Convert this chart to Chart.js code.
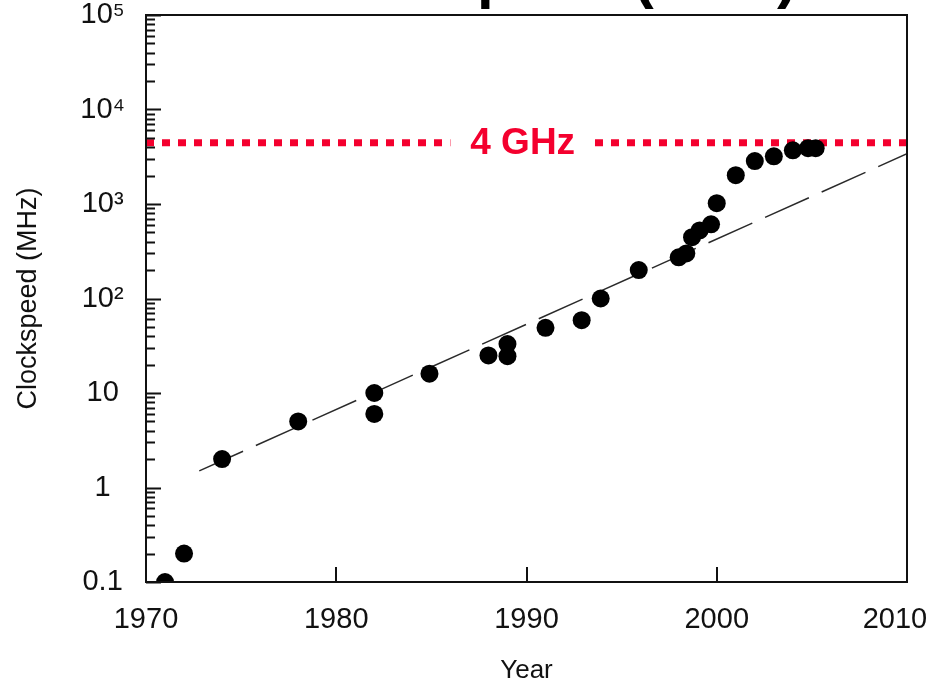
<!DOCTYPE html>
<html>
<head>
<meta charset="utf-8">
<script src="https://cdn.jsdelivr.net/npm/chart.js@4.4.1/dist/chart.umd.min.js"></script>
<style>
  html, body { margin: 0; padding: 0; background: #fff; }
  #wrap { width: 930px; height: 686px; }
</style>
</head>
<body>
<div id="wrap"><canvas id="myChart"></canvas></div>
<script>
// processor clock speeds
const years = [1971, 1972, 1974, 1978, 1982, 1982, 1984.9, 1988, 1989, 1989, 1991, 1992.9, 1993.9, 1995.9,
  1998, 1998.4, 1998.7, 1999.1, 1999.7, 2000, 2001, 2002, 2003, 2004, 2004.8, 2005.2];
const clockMHz = [0.1, 0.2, 2, 5, 10, 6, 16, 25, 33, 24.5, 49, 59, 100, 200,
  273, 300, 445, 525, 610, 1020, 2020, 2850, 3200, 3700, 3900, 3900];

// dashed trend line (doubling every ~3.4 years)
const trendYears = [1972.8, 2010];
const trendMHz = [1.5, 3400];

// red "4 GHz" wall, with a gap for the label
const wallYears = [1970, 1986, 1989.8, 1993.6, 2010];
const wallMHz = [4450, 4450, null, 4450, 4450];
const wallLabel = '4 GHz';

const yTicks = [0.1, 1, 10, 100, 1000, 10000, 100000];
const yTickLabels = ['0.1', '1', '10', '10²', '10³', '10⁴', '10⁵'];
const xTicks = [1970, 1980, 1990, 2000, 2010];
const xTickLabels = ['1970', '1980', '1990', '2000', '2010   '];

const FONT = "'Liberation Sans', Arial, Helvetica, sans-serif";
const RED = '#f4002e';

const toPoints = (xs, ys) => xs.map((x, i) => ({x: x, y: ys[i]}));

// frame, inner tick marks, wall label and the cut-off slide title
const decorPlugin = {
  id: 'decor',
  afterDraw: (chart) => {
    const {ctx, chartArea: a, scales: {x, y}} = chart;
    ctx.save();
    ctx.strokeStyle = '#111';
    ctx.lineWidth = 2;
    ctx.strokeRect(a.left, a.top, a.right - a.left, a.bottom - a.top);

    ctx.beginPath();
    for (let n = -1; n < 5; n++) {
      for (let m = 1; m < 10; m++) {
        const py = Math.round(y.getPixelForValue(m * Math.pow(10, n))) + 0.5;
        ctx.moveTo(a.left, py);
        ctx.lineTo(a.left + (m === 1 ? 15 : 9), py);
      }
    }
    const top = Math.round(y.getPixelForValue(100000)) + 0.5;
    ctx.moveTo(a.left, top);
    ctx.lineTo(a.left + 15, top);
    xTicks.slice(1, -1).forEach(v => {
      const px = Math.round(x.getPixelForValue(v));
      ctx.moveTo(px, a.bottom);
      ctx.lineTo(px, a.bottom - 15);
    });
    ctx.stroke();

    ctx.fillStyle = RED;
    ctx.font = 'bold 37px ' + FONT;
    ctx.textAlign = 'center';
    ctx.textBaseline = 'middle';
    ctx.fillText(wallLabel, x.getPixelForValue(wallYears[2]), y.getPixelForValue(wallMHz[0]) + 1);

    ctx.fillStyle = '#000';
    ctx.font = 'bold 60px ' + FONT;
    ctx.textAlign = 'right';
    ctx.textBaseline = 'alphabetic';
    ctx.fillText('Clock Speed (MHz)', 797, -3);
    ctx.restore();
  }
};

const ctx = document.getElementById('myChart');

new Chart(ctx, {
  type: 'scatter',
  data: {
    datasets: [
      {
        type: 'line',
        data: toPoints(wallYears, wallMHz),
        borderColor: RED,
        borderWidth: 7,
        borderDash: [8, 8],
        borderCapStyle: 'butt',
        pointRadius: 0,
        spanGaps: false,
        clip: false,
        order: 3
      },
      {
        type: 'line',
        data: toPoints(trendYears, trendMHz),
        borderColor: '#2a2a2a',
        borderWidth: 1.5,
        borderDash: [48, 14],
        pointRadius: 0,
        order: 2
      },
      {
        data: toPoints(years, clockMHz),
        backgroundColor: '#000',
        borderWidth: 0,
        pointRadius: 9,
        pointHoverRadius: 9,
        order: 1
      }
    ]
  },
  options: {
    responsive: true,
    maintainAspectRatio: false,
    animation: false,
    layout: { padding: { left: 12, right: 23, top: 15, bottom: 0 } },
    plugins: {
      legend: { display: false },
      tooltip: { enabled: false }
    },
    scales: {
      x: {
        type: 'linear',
        min: 1970,
        max: 2010,
        afterBuildTicks: (s) => { s.ticks = xTicks.map(v => ({value: v})); },
        afterFit: (s) => { s.height = 104; s.paddingLeft = 0; s.paddingRight = 0; },
        ticks: {
          callback: (v, i) => xTickLabels[i],
          font: { family: FONT, size: 29 },
          color: '#111',
          padding: 13,
          maxRotation: 0,
          autoSkip: false
        },
        grid: { display: false },
        border: { display: false },
        title: {
          display: true,
          text: 'Year',
          font: { family: FONT, size: 26 },
          color: '#111',
          padding: { top: 0, bottom: 0 }
        }
      },
      y: {
        type: 'logarithmic',
        min: 0.1,
        max: 100000,
        afterBuildTicks: (s) => { s.ticks = yTicks.map(v => ({value: v})); },
        afterFit: (s) => { s.width = 134; s.paddingTop = 0; s.paddingBottom = 0; },
        ticks: {
          callback: (v, i) => yTickLabels[i],
          font: { family: FONT, size: 29 },
          color: '#111',
          crossAlign: 'center',
          padding: 13,
          autoSkip: false
        },
        grid: { display: false },
        border: { display: false },
        title: {
          display: true,
          text: 'Clockspeed (MHz)',
          font: { family: FONT, size: 27 },
          color: '#111',
          padding: { top: 0, bottom: 0 }
        }
      }
    }
  },
  plugins: [decorPlugin]
});
</script>
</body>
</html>
